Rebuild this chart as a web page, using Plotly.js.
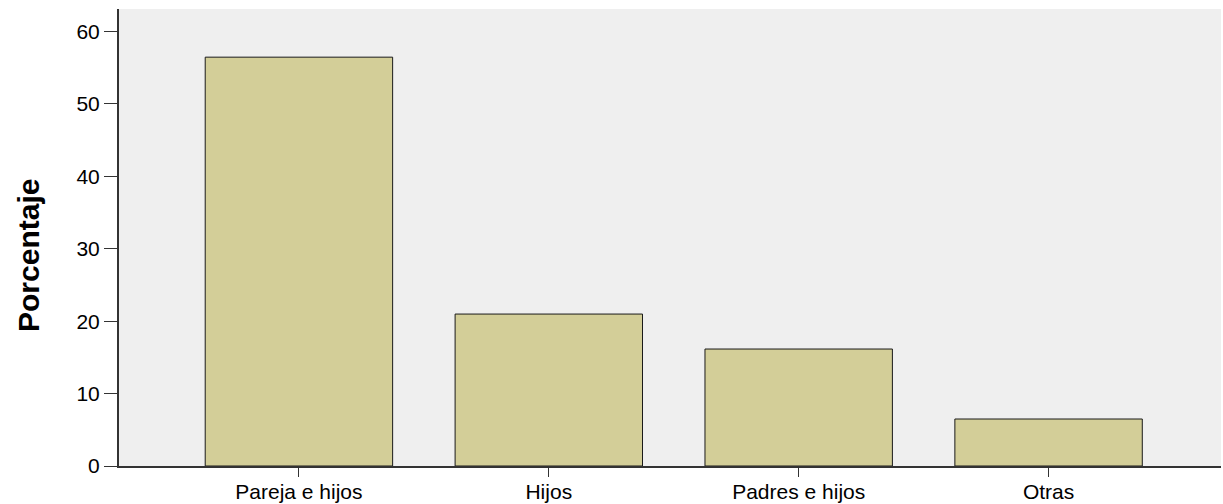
<!DOCTYPE html>
<html>
<head>
<meta charset="utf-8">
<script src="https://cdn.plot.ly/plotly-3.0.1.min.js"></script>
<style>html,body{margin:0;padding:0;background:#fff;}#chart{width:1223px;height:504px;}</style>
</head>
<body>
<div id="chart"></div>
<script>
const categories = ["Pareja e hijos", "Hijos", "Padres e hijos", "Otras"];
const percentages = [56.45, 20.98, 16.15, 6.49];
const yTickValues = [0, 10, 20, 30, 40, 50, 60];
const yTitle = "Porcentaje";

const trace = {
  type: "bar",
  x: categories,
  y: percentages,
  width: 0.75,
  marker: {color: "#d3ce98", line: {color: "#1a1a1a", width: 1}},
  hoverinfo: "none"
};

const layout = {
  width: 1223,
  height: 504,
  margin: {l: 119, r: 2, t: 9, b: 38},
  paper_bgcolor: "#ffffff",
  plot_bgcolor: "#efefef",
  showlegend: false,
  font: {family: "Liberation Sans, Arial, sans-serif", color: "#000"},
  xaxis: {
    type: "category",
    range: [-0.72, 3.69],
    showgrid: false,
    zeroline: false,
    showline: true,
    linecolor: "#333",
    linewidth: 2,
    ticks: "outside",
    ticklen: 9,
    tickwidth: 1,
    tickcolor: "#333",
    ticklabelstandoff: -3,
    tickfont: {size: 21, color: "#000"},
    fixedrange: true
  },
  yaxis: {
    range: [0, 63.1],
    tickvals: yTickValues,
    showgrid: false,
    zeroline: false,
    showline: true,
    linecolor: "#333",
    linewidth: 2,
    ticks: "outside",
    ticklen: 13,
    tickwidth: 1,
    tickcolor: "#333",
    tickfont: {size: 21, color: "#000"},
    fixedrange: true
  },
  annotations: [{
    text: "<b>" + yTitle + "</b>",
    xref: "paper", yref: "paper",
    x: -0.0826, y: 0.4617,
    xanchor: "center", yanchor: "middle",
    textangle: -90,
    showarrow: false,
    font: {size: 30, color: "#000", family: "Liberation Sans, Arial, sans-serif"}
  }]
};

Plotly.newPlot("chart", [trace], layout, {displayModeBar: false, staticPlot: true});
</script>
</body>
</html>
